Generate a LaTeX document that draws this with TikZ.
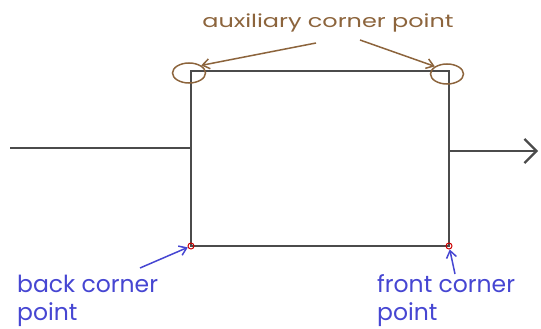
\documentclass[tikz,border=0pt]{standalone}
\usepackage{fontspec}
\setmainfont{Poppins}
\usetikzlibrary{arrows.meta,shapes.geometric}
\definecolor{brn}{RGB}{140,100,60}
\definecolor{blu}{RGB}{70,70,210}
\definecolor{lin}{RGB}{75,75,75}
\begin{document}
\begin{tikzpicture}[x=1pt,y=-1pt,
  edge/.style={draw=lin,line width=2.2pt},
  brnarrow/.style={draw=brn,line width=1.5pt,-{Straight Barb[length=7pt,width=10pt]}},
  bluarrow/.style={draw=blu,line width=1.5pt,-{Straight Barb[length=7pt,width=10pt]}},
  brnlbl/.style={text=brn,font=\fontsize{18}{20}\selectfont,inner sep=0pt},
  blulbl/.style={text=blu,font=\fontsize{23.5}{27.5}\selectfont,inner sep=0pt,align=left},
  brnring/.style={draw=brn,line width=1.5pt,ellipse,minimum width=33pt,minimum height=20pt,inner sep=0pt},
  redmark/.style={draw=red!80!black,line width=1pt,circle,minimum size=6pt,inner sep=0pt}]
\useasboundingbox (0,0) rectangle (541,329);
\coordinate (tl) at (191,71);
\coordinate (tr) at (449,71);
\coordinate (bl) at (191,246);
\coordinate (br) at (449,246);
\coordinate (inL) at (10,148);
\coordinate (inR) at (191,148);
\coordinate (outL) at (449,151);
\coordinate (outR) at (538,151);
\draw[edge] (tl) -- (tr) -- (br) -- (bl) -- cycle;
\draw[edge] (inL) -- (inR);
\draw[edge,-{Straight Barb[length=12pt,width=24pt]}] (outL) -- (outR);
\node[redmark] (rbl) at (bl) {};
\node[redmark] (rbr) at (br) {};
\node[brnlbl,anchor=base] (aux) at (328,28) {\scalebox{1.33}[1]{auxiliary corner point}};
\node[brnring] (eL) at (189,73) {};
\node[brnring] (eR) at (447,74) {};
\coordinate (aL) at (316,43);
\coordinate (aR) at (360,40);
\draw[brnarrow] (aL) -- (eL.north east);
\draw[brnarrow] (aR) -- (eR.north west);
\node[blulbl,anchor=base west] (back) at (17,320) {back corner\\point};
\node[blulbl,anchor=base west] (front) at (377,320) {front corner\\point};
\coordinate (bA) at (140,268);
\coordinate (fA) at (455,274);
\draw[bluarrow] (bA) -- (rbl);
\draw[bluarrow] (fA) -- (rbr);
\end{tikzpicture}
\end{document}
